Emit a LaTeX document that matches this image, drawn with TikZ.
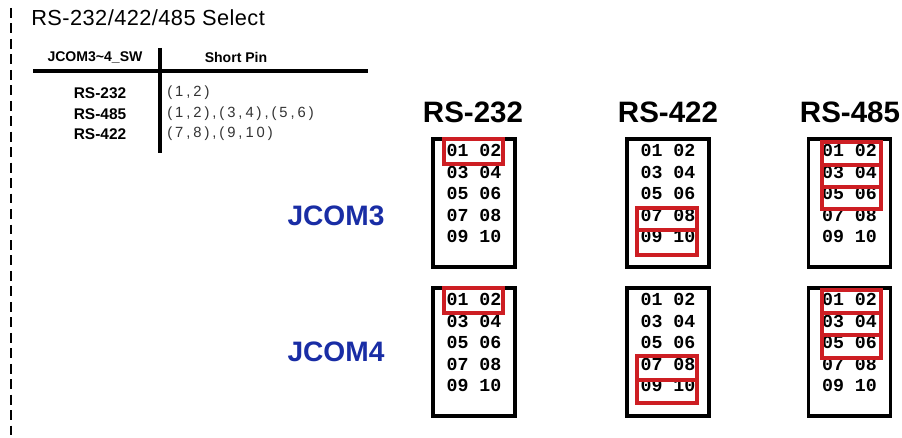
\documentclass[tikz,border=0pt]{standalone}
\usepackage{fontspec}
\setmainfont{Liberation Sans}
\newfontfamily\pinfont{Liberation Mono}
\newfontfamily\spacedfont[LetterSpace=20]{Liberation Sans}
\newfontfamily\titlefont[LetterSpace=2]{Liberation Sans}
\usetikzlibrary{positioning}
\definecolor{hlred}{RGB}{205,30,35}
\definecolor{jblue}{RGB}{25,45,165}
\tikzset{
  pinrow/.style={font=\pinfont\bfseries\fontsize{13}{13}\selectfont,inner sep=0pt},
  jbox/.style={draw=black,line width=2.5pt},
  hl/.style={draw=hlred,line width=2.4pt},
  modehead/.style={font=\bfseries\fontsize{21}{21}\selectfont,inner sep=0pt},
  comlabel/.style={font=\bfseries\fontsize{20}{20}\selectfont,text=jblue,inner sep=0pt},
  thead/.style={font=\bfseries\fontsize{10}{10}\selectfont,inner sep=0pt},
  tmode/.style={font=\bfseries\fontsize{11}{11}\selectfont,inner sep=0pt},
  tpins/.style={font=\spacedfont\fontsize{10.5}{10.5}\selectfont,text=black!80,anchor=west,inner sep=0pt}
}
% jumper block: name, centre x, top y
\newcommand{\pinbox}[3]{
  \draw[jbox] (#2-41,#3) rectangle (#2+41,#3+128);
  \foreach \r/\pins in {1/01 02,2/03 04,3/05 06,4/07 08,5/09 10}
    \node[pinrow] (#1-\r) at (#2,#3+11.5+21.5*\r-21.5) {\pins};
}

\begin{document}
\begin{tikzpicture}[x=0.025cm,y=-0.025cm]
  \path[fill=white,use as bounding box] (0,0) rectangle (902,438);
  \draw[dash pattern=on 7pt off 4pt,line width=0.9pt] (11,8) -- (11,438);

  \node[font=\titlefont\fontsize{15.5}{15.5}\selectfont,anchor=west,inner sep=0pt] (title) at (31,18) {RS-232/422/485 Select};

  % table
  \node[thead] (hsw) at (95,57) {JCOM3\textasciitilde4\_SW};
  \node[thead] (hpin) at (236,57) {Short Pin};
  \draw[line width=2.8pt] (33,71) -- (368,71);
  \draw[line width=2.3pt] (160,48) -- (160,153);
  \node[tmode] (t232) at (100,93) {RS-232};
  \node[tmode] (t485) at (100,114) {RS-485};
  \node[tmode] (t422) at (100,134) {RS-422};
  \node[tpins] (p232) at (167,93) {(1,2)};
  \node[tpins] (p485) at (167,114) {(1,2),(3,4),(5,6)};
  \node[tpins] (p422) at (167,134) {(7,8),(9,10)};

  % jumper blocks
  \node[modehead] (m232) at (473,112) {RS-232};
  \node[modehead] (m422) at (668,112) {RS-422};
  \node[modehead] (m485) at (850,112) {RS-485};
  \node[comlabel] (jcom3) at (336,216) {JCOM3};
  \node[comlabel] (jcom4) at (336,352) {JCOM4};

  \pinbox{a232}{474}{139}
  \pinbox{a422}{668}{139}
  \pinbox{a485}{849.5}{139}
  \pinbox{b232}{474}{288}
  \pinbox{b422}{668}{288}
  \pinbox{b485}{849.5}{288}

  % shorted pins
  \draw[hl] (444,139) rectangle (503,164);
  \draw[hl] (637,208) rectangle (697,230);
  \draw[hl] (637,230) rectangle (697,255);
  \draw[hl] (822,142) rectangle (881,165);
  \draw[hl] (822,165) rectangle (881,187);
  \draw[hl] (822,187) rectangle (881,209);

  \draw[hl] (444,288) rectangle (503,313);
  \draw[hl] (637,356) rectangle (697,380);
  \draw[hl] (637,380) rectangle (697,403);
  \draw[hl] (822,290) rectangle (881,313);
  \draw[hl] (822,313) rectangle (881,335);
  \draw[hl] (822,335) rectangle (881,358);
\end{tikzpicture}
\end{document}
